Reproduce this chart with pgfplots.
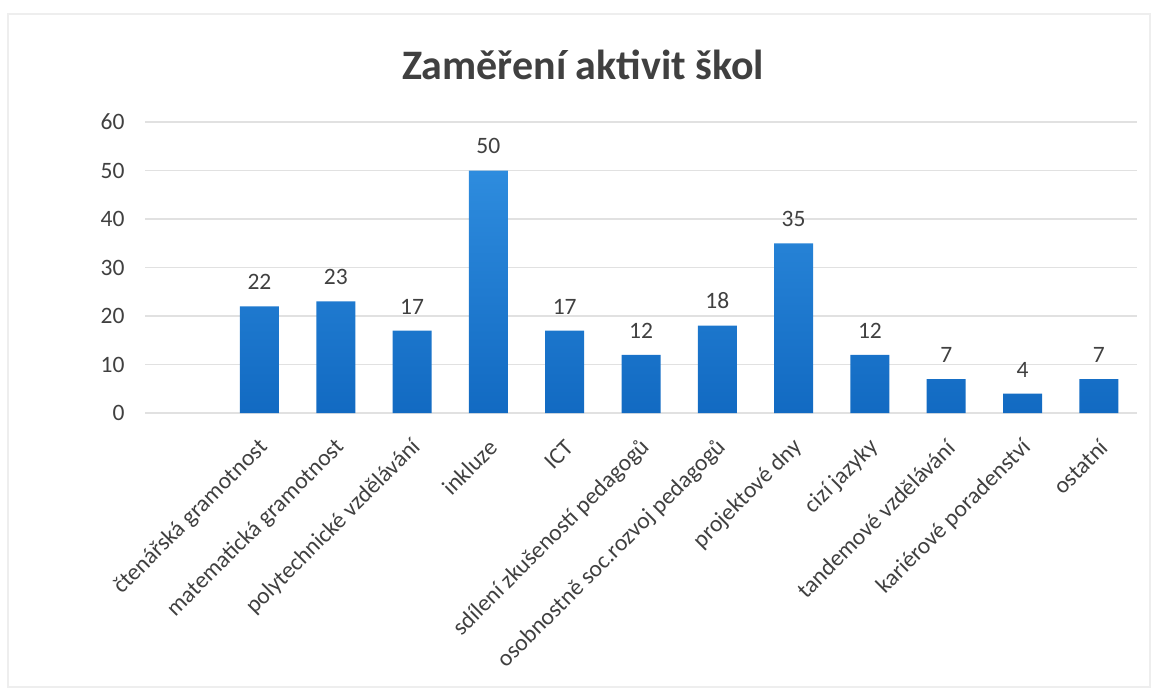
\documentclass[border=0pt]{standalone}
\usepackage{pgfplots}
\pgfplotsset{compat=1.18}
\usepackage{fontspec}
\setmainfont{Carlito}
\definecolor{bartop}{RGB}{46,140,222}
\definecolor{barbot}{RGB}{18,106,194}
\definecolor{txt}{RGB}{64,64,64}
\definecolor{gridc}{RGB}{225,225,225}
\definecolor{framec}{RGB}{238,238,238}
\begin{document}
\begin{tikzpicture}[x=1pt,y=1pt]
\path[use as bounding box] (0,0) rectangle (1155,691);
\draw[framec, line width=1.2pt] (8,4) rectangle (1150,677);
\node[font=\fontsize{42}{46}\selectfont\bfseries, text=txt] at (583,626) {Zaměření aktivit škol};
\begin{axis}[
  at={(145pt,278pt)}, anchor=south west,
  scale only axis, width=992pt, height=291pt,
  xmin=-1.5, xmax=11.5, ymin=0, ymax=60,
  ytick={0,10,...,60},
  xtick={0,...,11},
  xticklabels={čtenářská gramotnost, matematická gramotnost, polytechnické vzdělávání, inkluze, ICT, sdílení zkušeností pedagogů, osobnostně soc.rozvoj pedagogů, projektové dny, cizí jazyky, tandemové vzdělávání, kariérové poradenství, ostatní},
  ymajorgrids, major grid style={gridc, line width=1.2pt},
  axis line style={draw=none}, tick style={draw=none},
  /pgf/number format/assume math mode=true,
  yticklabel style={font=\fontsize{23.5}{26}\selectfont, text=txt, xshift=-17pt},
  xticklabel style={font=\fontsize{23.5}{26}\selectfont, text=txt, rotate=45, anchor=east, yshift=-22pt, xshift=-12pt},
  ybar, bar width=39pt,
]
\addplot[draw=none, top color=bartop, bottom color=barbot,
  nodes near coords,
  nodes near coords style={font=\fontsize{23.5}{26}\selectfont, text=txt, yshift=13pt}]
  coordinates {(0,22) (1,23) (2,17) (3,50) (4,17) (5,12) (6,18) (7,35) (8,12) (9,7) (10,4) (11,7)};
\end{axis}
\end{tikzpicture}
\end{document}
